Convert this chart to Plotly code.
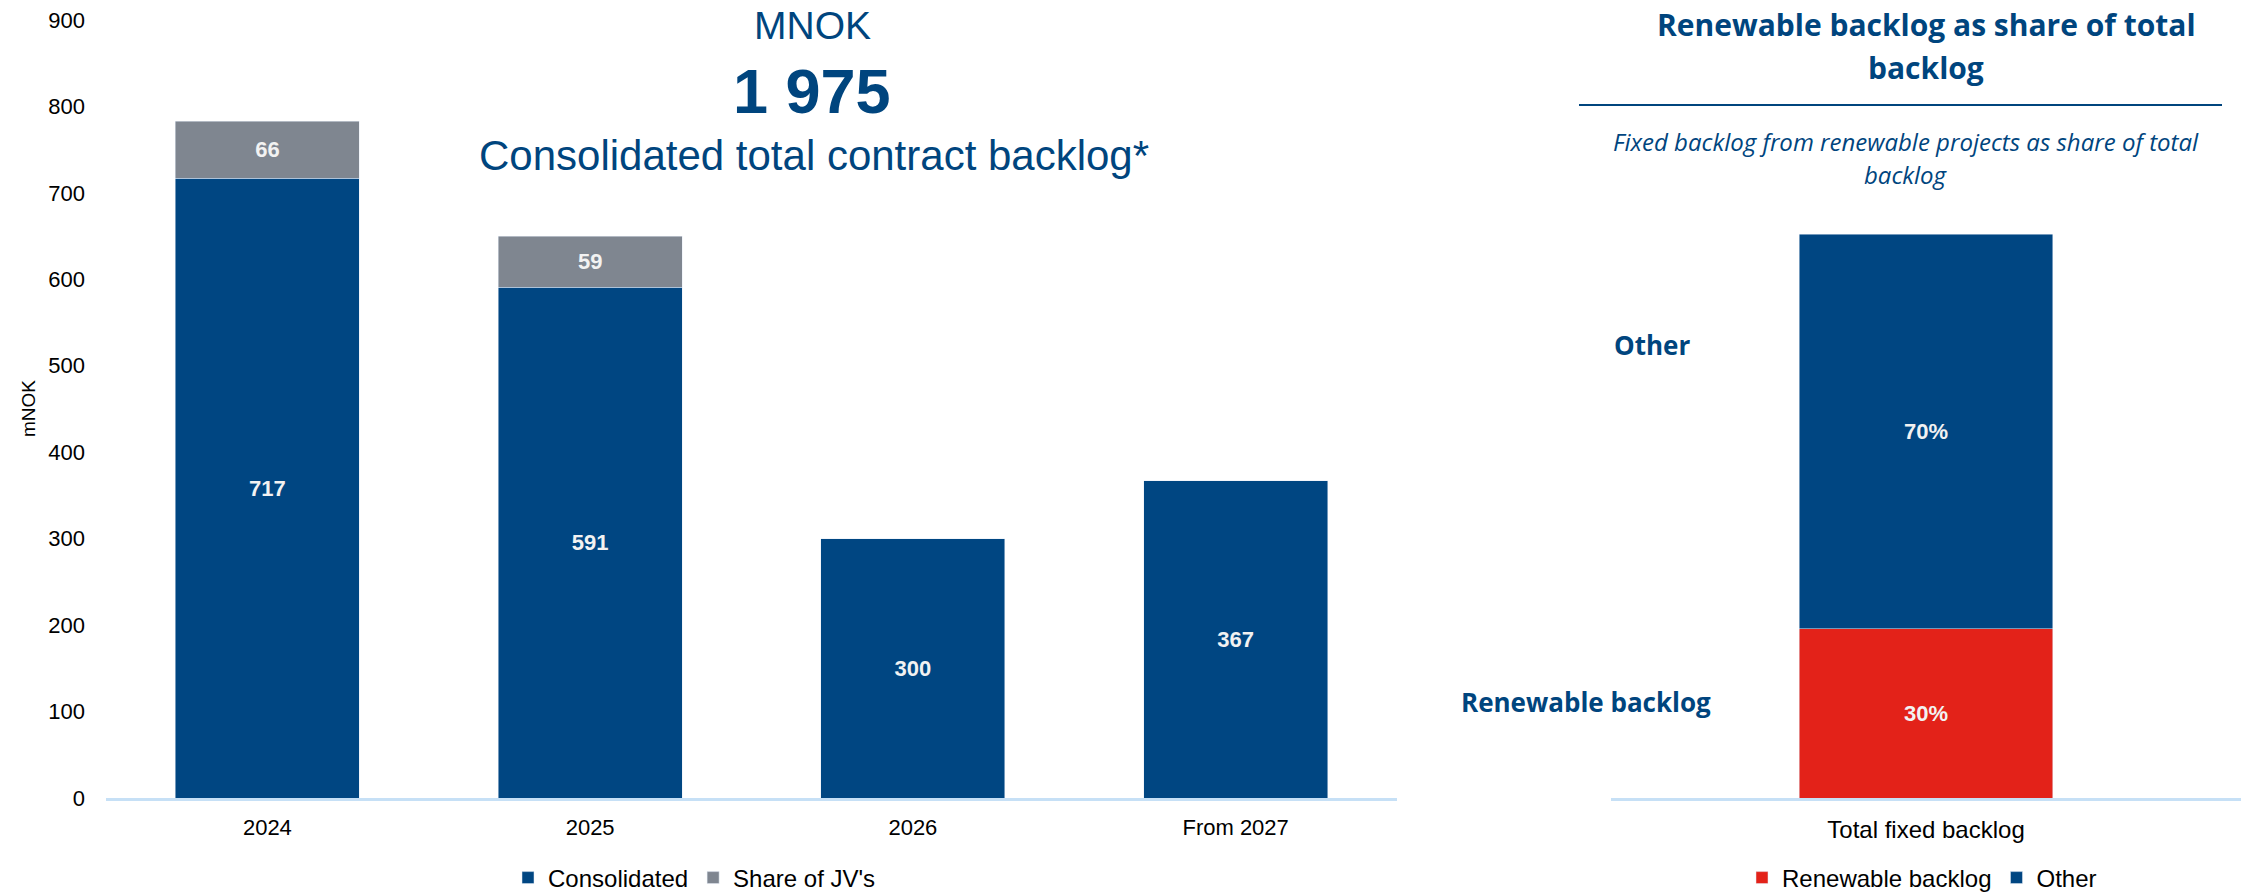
import plotly.graph_objects as go

# --- data -------------------------------------------------------------
years = ["2024", "2025", "2026", "From 2027"]
consolidated = [717, 591, 300, 367]
jv_share = [66, 59, None, None]

backlog_category = ["Total fixed backlog"]
renewable_pct = [30]
other_pct = [70]

y_ticks = [0, 100, 200, 300, 400, 500, 600, 700, 800, 900]

# --- style --------------------------------------------------------------
W, H = 2241, 894
BLUE = "#004682"
GREY = "#7F8690"
RED = "#E32219"
AXIS_BLUE = "#C6E0F6"
TEXT_BLUE = "#00457E"
ARIAL = "Liberation Sans, Arial, sans-serif"
SANS = "Open Sans, Noto Sans, sans-serif"


def fx(px):
    return px / W


def fy(py):
    return (H - py) / H


fig = go.Figure()

label_font = dict(family=ARIAL, size=22, color="#F2F2F2", weight="bold")

fig.add_trace(go.Bar(
    x=years, y=consolidated, name="Consolidated", marker_color=BLUE,
    width=0.57, texttemplate="%{y}", textposition="inside",
    insidetextanchor="middle", constraintext="none", textfont=label_font,
    xaxis="x", yaxis="y", legend="legend",
))
fig.add_trace(go.Bar(
    x=years, y=jv_share, name="Share of JV's", marker_color=GREY,
    width=0.57, texttemplate="%{y}", textposition="inside",
    insidetextanchor="middle", constraintext="none", textfont=label_font,
    xaxis="x", yaxis="y", legend="legend",
))

fig.add_trace(go.Bar(
    x=backlog_category, y=renewable_pct, name="Renewable backlog",
    marker_color=RED, width=0.403, texttemplate="%{y}%",
    textposition="inside", insidetextanchor="middle", constraintext="none",
    textfont=label_font, xaxis="x2", yaxis="y2", legend="legend2",
))
fig.add_trace(go.Bar(
    x=backlog_category, y=other_pct, name="Other",
    marker_color=BLUE, width=0.403, texttemplate="%{y}%",
    textposition="inside", insidetextanchor="middle", constraintext="none",
    textfont=label_font, xaxis="x2", yaxis="y2", legend="legend2",
))

y_dom = [fy(798), fy(20)]
right_top = 100 * (798 - 20) / (798 - 234)

axis_common = dict(showgrid=False, zeroline=False, automargin=False)

fig.update_layout(
    width=W, height=H,
    margin=dict(l=0, r=0, t=0, b=0, autoexpand=False),
    paper_bgcolor="white", plot_bgcolor="white",
    barmode="stack",
    font=dict(family=ARIAL, size=22, color="#000000"),
    xaxis=dict(domain=[fx(106), fx(1397)], anchor="y", type="category",
               range=[-0.5, 3.5], showline=True, linecolor=AXIS_BLUE,
               linewidth=3, ticks="", ticklabelstandoff=8,
               tickfont=dict(size=22), **axis_common),
    yaxis=dict(domain=y_dom, anchor="x", range=[0, 900], tickvals=y_ticks,
               showline=False, ticks="", ticklabelstandoff=20,
               tickfont=dict(size=22), **axis_common),
    xaxis2=dict(domain=[fx(1611), 1.0], anchor="y2", type="category",
                range=[-0.5, 0.5], showline=True, linecolor=AXIS_BLUE,
                linewidth=3, ticks="", ticklabelstandoff=8,
                tickfont=dict(size=24), **axis_common),
    yaxis2=dict(domain=y_dom, anchor="x2", range=[0, right_top],
                visible=False, **axis_common),
    legend=dict(orientation="h", x=fx(508), xanchor="left",
                y=fy(878), yanchor="middle", traceorder="normal",
                font=dict(size=24), itemwidth=30),
    legend2=dict(orientation="h", x=fx(1742), xanchor="left",
                 y=fy(878), yanchor="middle", traceorder="normal",
                 font=dict(size=24), itemwidth=30),
)

annotations = [
    dict(text="mNOK", x=fx(28), y=fy(409), textangle=-90,
         font=dict(family=ARIAL, size=19, color="#000000")),
    dict(text="MNOK", x=fx(812), y=fy(26),
         font=dict(family=ARIAL, size=39, color=TEXT_BLUE)),
    dict(text="<b>1 975</b>", x=fx(812), y=fy(91),
         font=dict(family=ARIAL, size=63, color=TEXT_BLUE)),
    dict(text="Consolidated total contract backlog*", x=fx(814), y=fy(156),
         font=dict(family=ARIAL, size=42, color=TEXT_BLUE)),
    dict(text="<b>Renewable backlog as share of total</b>", x=fx(1926),
         y=fy(25), font=dict(family=SANS, size=30, color=TEXT_BLUE)),
    dict(text="<b>backlog</b>", x=fx(1926), y=fy(67),
         font=dict(family=SANS, size=30, color=TEXT_BLUE)),
    dict(text="<i>Fixed backlog from renewable projects as share of total</i>",
         x=fx(1906), y=fy(141),
         font=dict(family=SANS, size=24, color=TEXT_BLUE)),
    dict(text="<i>backlog</i>", x=fx(1906), y=fy(174),
         font=dict(family=SANS, size=24, color=TEXT_BLUE)),
    dict(text="<b>Other</b>", x=fx(1652), y=fy(345),
         font=dict(family=SANS, size=26, color=TEXT_BLUE)),
    dict(text="<b>Renewable backlog</b>", x=fx(1586), y=fy(702),
         font=dict(family=SANS, size=26, color=TEXT_BLUE)),
]
for a in annotations:
    a.update(xref="paper", yref="paper", showarrow=False,
             xanchor="center", yanchor="middle")
fig.update_layout(annotations=annotations)

fig.add_shape(type="line", xref="paper", yref="paper",
              x0=fx(1579), x1=fx(2222), y0=fy(105), y1=fy(105),
              line=dict(color=TEXT_BLUE, width=2))

fig.write_html("out.html")
